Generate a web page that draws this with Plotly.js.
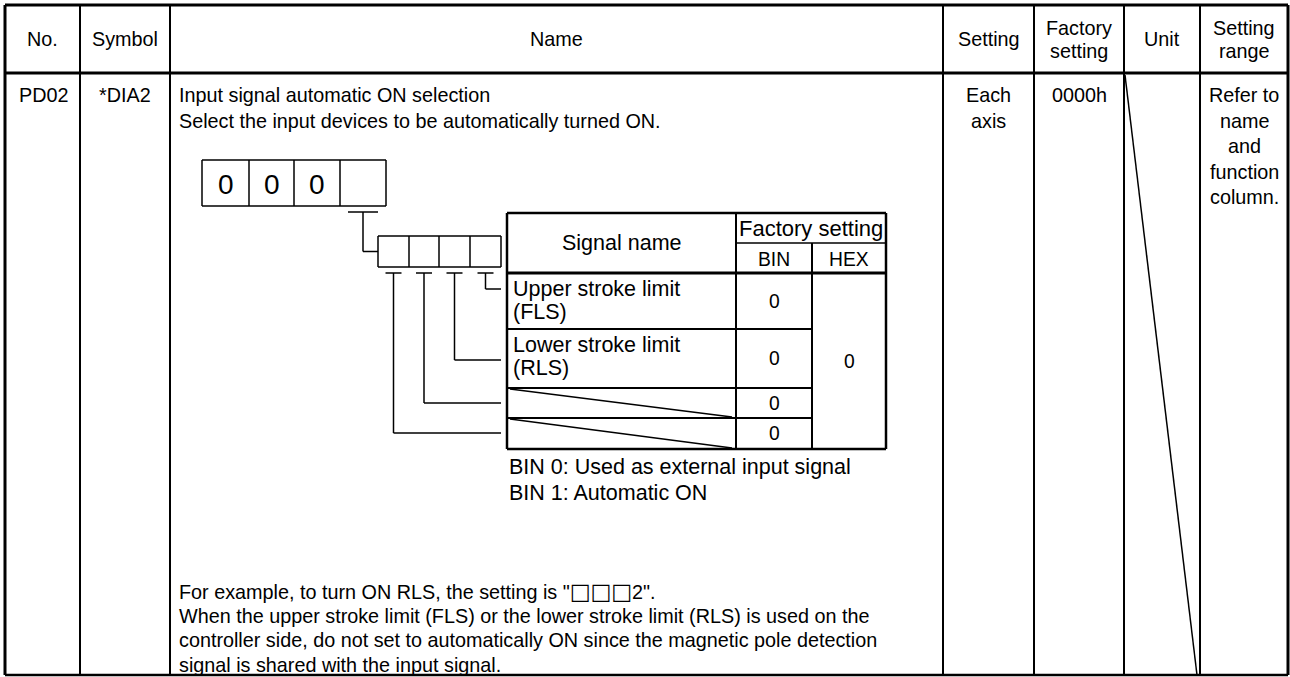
<!DOCTYPE html>
<html><head><meta charset="utf-8">
<script src="https://cdn.plot.ly/plotly-3.0.1.min.js"></script>
<style>html,body{margin:0;padding:0;background:#fff;overflow:hidden}#chart{width:1290px;height:677px}</style>
</head><body><div id="chart"></div>
<script>
// ---------------- data (text content) ----------------
const headerLabels = [["No."],["Symbol"],["Name"],["Setting"],["Factory","setting"],["Unit"],["Setting","range"]];
const paramNo = "PD02";
const paramSymbol = "*DIA2";
const nameLines = ["Input signal automatic ON selection","Select the input devices to be automatically turned ON."];
const settingLines = ["Each","axis"];
const factoryDefault = ["0000h"];
const rangeLines = ["Refer to","name","and","function","column."];
const digitValues = ["0","0","0",""];
const subHeader = ["Signal name","Factory setting","BIN","HEX"];
const signalNames = [["Upper stroke limit","(FLS)"],["Lower stroke limit","(RLS)"],[],[]];
const binValues = ["0","0","0","0"];
const hexValue = "0";
const binNotes = ["BIN 0: Used as external input signal","BIN 1: Automatic ON"];
const footLines = ['For example, to turn ON RLS, the setting is "\u25A1\u25A1\u25A12".',
  "When the upper stroke limit (FLS) or the lower stroke limit (RLS) is used on the",
  "controller side, do not set to automatically ON since the magnetic pole detection",
  "signal is shared with the input signal."];

// ---------------- layout geometry ----------------
const W = 1290, H = 677;
const colX = [5,80,170,943,1034,1124,1200,1288];
const tTop = 5, hBot = 73, tBot = 675;
const bodyY0 = 95, lineH = 25.5;
const digitX = [202,249,294,340,386], digitY = [160,206];
const bitX = [378,409,439,470,501], bitY = [236,267];
const sX = [507,736,812,886];
const sY = [213,243,273,329,388,418,449];
const bitTickY = 273, bitLinkY = [433,403,360,289];
const notesY0 = 467;
const footY0 = 591, footH = 24.5;
const FONT = "Liberation Sans, Arial, Helvetica, sans-serif";
const fsBody = 19.8, fsFig = 21.5, fsSig = 21.5, fsDigit = 28;

const shapes = [];
const ann = [];
function seg(x0,y0,x1,y1,w){shapes.push({type:'line',xref:'x',yref:'y',x0,y0,x1,y1,line:{color:'#000',width:w}});}
function fmt(t){return t.replace(/(\u25A1+)/g,'<span style="font-family:DejaVu Sans;font-size:22px">$1</span>');}
function txt(x,y,t,size,anchor){ann.push({xref:'x',yref:'y',x,y,text:fmt(t),showarrow:false,xanchor:anchor||'center',yanchor:'middle',font:{family:FONT,size:size||fsBody,color:'#000'},borderpad:0});}

// outer table
seg(colX[0],tTop,colX[7],tTop,3);
seg(colX[0],tBot,colX[7],tBot,2.5);
seg(colX[0],tTop,colX[0],tBot,3);
seg(colX[7],tTop,colX[7],tBot,3);
seg(colX[0],hBot,colX[7],hBot,3);
for(let i=1;i<colX.length-1;i++) seg(colX[i],tTop,colX[i],tBot,2);
// unit column diagonal
seg(colX[5]+1,hBot+2,colX[6]-3,tBot,1.5);

// header text
headerLabels.forEach((lines,i)=>{
  const cx=(colX[i]+colX[i+1])/2;
  if(lines.length===1) txt(cx,(tTop+hBot)/2,lines[0]);
  else { txt(cx,27.5,lines[0]); txt(cx,50.5,lines[1]); }
});

// body columns
txt((colX[0]+colX[1])/2+1,bodyY0,paramNo);
txt((colX[1]+colX[2])/2,bodyY0,paramSymbol);
nameLines.forEach((t,i)=>txt(colX[2]+8,bodyY0+i*lineH,t,fsBody,'left'));
settingLines.forEach((t,i)=>txt((colX[3]+colX[4])/2,bodyY0+i*lineH,t));
factoryDefault.forEach((t,i)=>txt((colX[4]+colX[5])/2,bodyY0+i*lineH,t));
rangeLines.forEach((t,i)=>txt((colX[6]+colX[7])/2,bodyY0+i*lineH,t));

// digit boxes
seg(digitX[0],digitY[0],digitX[4],digitY[0],1.5);
seg(digitX[0],digitY[1],digitX[4],digitY[1],1.5);
digitX.forEach(x=>seg(x,digitY[0],x,digitY[1],1.5));
digitValues.forEach((d,i)=>{ if(d) txt((digitX[i]+digitX[i+1])/2,(digitY[0]+digitY[1])/2+1,d,fsDigit); });

// connector from last digit to bit boxes
const dc=(digitX[3]+digitX[4])/2;
seg(dc-15,212,dc+15,212,1.5);
seg(dc,212,dc,(bitY[0]+bitY[1])/2,1.5);
seg(dc,(bitY[0]+bitY[1])/2,bitX[0],(bitY[0]+bitY[1])/2,1.5);

// bit boxes
seg(bitX[0],bitY[0],bitX[4],bitY[0],1.5);
seg(bitX[0],bitY[1],bitX[4],bitY[1],1.5);
bitX.forEach(x=>seg(x,bitY[0],x,bitY[1],1.5));
for(let i=0;i<4;i++){
  const c=(bitX[i]+bitX[i+1])/2;
  seg(c-8,bitTickY,c+8,bitTickY,1.5);
  seg(c,bitTickY,c,bitLinkY[i],1.5);
  seg(c,bitLinkY[i],bitX[4],bitLinkY[i],1.5);
}

// signal table
seg(sX[0],sY[0],sX[3],sY[0],2.5);
seg(sX[0],sY[6],sX[3],sY[6],2.5);
seg(sX[0],sY[0],sX[0],sY[6],2.5);
seg(sX[3],sY[0],sX[3],sY[6],2.5);
seg(sX[1],sY[0],sX[1],sY[6],2);
seg(sX[1],sY[1],sX[3],sY[1],1.5);
seg(sX[2],sY[1],sX[2],sY[6],2);
seg(sX[0],sY[2],sX[3],sY[2],3);
for(let r=3;r<=5;r++) seg(sX[0],sY[r],sX[2],sY[r],2);
// crossed-out (unused) rows
signalNames.forEach((lines,r)=>{
  const y0=sY[2+r], y1=sY[3+r];
  if(lines.length===0) seg(sX[0]+3,y0+1,sX[1]-4,y1-1,1.5);
  else { txt(sX[0]+5,y0+16,lines[0],fsSig,'left'); txt(sX[0]+5,y0+39,lines[1],fsSig,'left'); }
  txt((sX[1]+sX[2])/2,(y0+y1)/2,binValues[r],fsBody-0.5);
});
txt((sX[0]+sX[1])/2,(sY[0]+sY[2])/2,subHeader[0],fsFig);
txt((sX[1]+sX[3])/2,(sY[0]+sY[1])/2,subHeader[1],fsSig+0.5);
txt((sX[1]+sX[2])/2,(sY[1]+sY[2])/2+1,subHeader[2],fsBody-0.5);
txt((sX[2]+sX[3])/2,(sY[1]+sY[2])/2+1,subHeader[3],fsBody-0.5);
txt((sX[2]+sX[3])/2,(sY[2]+sY[6])/2,hexValue,fsBody-0.5);

binNotes.forEach((t,i)=>txt(sX[0]+1,notesY0+i*26,t,fsFig,'left'));
footLines.forEach((t,i)=>txt(colX[2]+8,footY0+i*footH,t,fsBody,'left'));

const layout = {
  width:W, height:H, margin:{l:0,r:0,t:0,b:0,pad:0},
  paper_bgcolor:'#fff', plot_bgcolor:'#fff', showlegend:false,
  xaxis:{range:[0,W],visible:false,fixedrange:true},
  yaxis:{range:[H,0],visible:false,fixedrange:true},
  shapes, annotations:ann
};
Plotly.newPlot('chart',[],layout,{staticPlot:true,displayModeBar:false});
</script></body></html>
